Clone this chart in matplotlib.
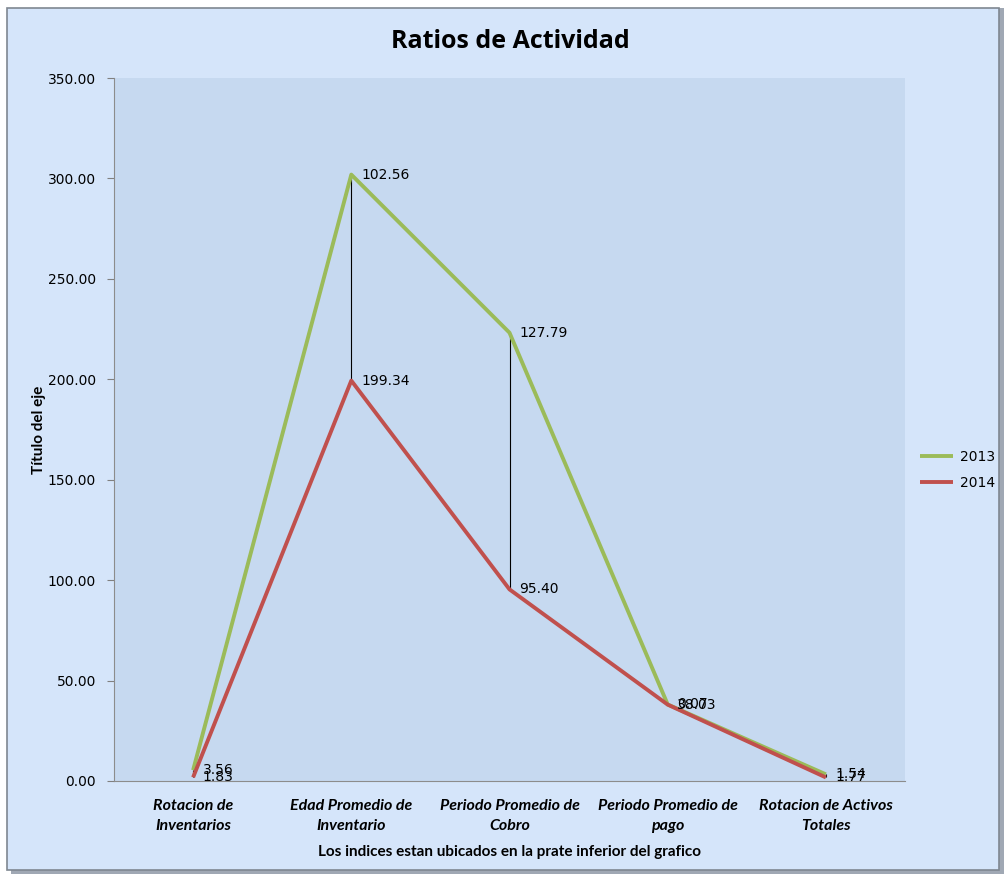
import numpy as np
import matplotlib.pyplot as plt
from matplotlib.patches import Rectangle

# ratios por año (lineas apiladas: 2013 se suma sobre 2014)
categorias = ["Rotacion de\nInventarios", "Edad Promedio de\nInventario",
              "Periodo Promedio de\nCobro", "Periodo Promedio de\npago",
              "Rotacion de Activos\nTotales"]
valores_2014 = [1.83, 199.34, 95.40, 38.03, 1.77]
valores_2013 = [3.56, 102.56, 127.79, 0.07, 1.54]
y_ticks = [0, 50, 100, 150, 200, 250, 300, 350]

verde = '#9BBB59'
rojo = '#C0504D'
fondo = '#D5E5FA'
fondo_plot = '#C6D9F0'
fuente = ['Lato', 'DejaVu Sans']

W, H = 1005, 875
fig = plt.figure(figsize=(W / 100, H / 100), dpi=100)
fig.patch.set_facecolor('white')

# marco del grafico con sombra
fig.patches.append(Rectangle((11 / W, 1 - 874 / H), 993 / W, 866 / H, transform=fig.transFigure,
                             facecolor='#A0A8B4', edgecolor='none', zorder=-10))
fig.patches.append(Rectangle((7 / W, 1 - 870 / H), 992 / W, 862 / H, transform=fig.transFigure,
                             facecolor=fondo, edgecolor='#7F8791', linewidth=1.2, zorder=-9))

ax = fig.add_axes([114 / W, 1 - 781 / H, 791 / W, 703 / H])
ax.set_facecolor(fondo_plot)

x = np.arange(len(categorias))
v14 = np.array(valores_2014)
v13 = v14 + np.array(valores_2013)

# lineas verticales entre series
ax.vlines(x, v14, v13, color='black', linewidth=0.8, zorder=2)

ax.plot(x, v13, color=verde, linewidth=2.8, label='2013', zorder=3, solid_capstyle='butt')
ax.plot(x, v14, color=rojo, linewidth=2.8, label='2014', zorder=3, solid_capstyle='butt')

for i in range(len(x)):
    ax.annotate(f"{valores_2013[i]:.2f}", (x[i], v13[i]), xytext=(7, 0), textcoords='offset points',
                va='center', ha='left', fontsize=10, family='DejaVu Sans', zorder=4)
    ax.annotate(f"{valores_2014[i]:.2f}", (x[i], v14[i]), xytext=(7, 0), textcoords='offset points',
                va='center', ha='left', fontsize=10, family='DejaVu Sans', zorder=4)

ax.set_xlim(-0.5, len(x) - 0.5)
ax.set_ylim(0, 350)
ax.set_yticks(y_ticks)
ax.set_yticklabels([f"{t:.2f}" for t in y_ticks], fontsize=10, family='DejaVu Sans')
ax.set_xticks(x)
ax.set_xticklabels(categorias, fontsize=11.5, fontweight='bold', style='italic',
                   family=fuente, linespacing=1.5)
ax.tick_params(axis='x', length=0, pad=13)
ax.tick_params(axis='y', length=5, color='#808080', pad=8)

for lado in ['top', 'right']:
    ax.spines[lado].set_visible(False)
ax.spines['left'].set_color('#8C8C8C')
ax.spines['bottom'].set_color('#8C8C8C')

ax.set_ylabel('Título del eje', fontsize=11, fontweight='bold', family=fuente, labelpad=1)
ax.set_xlabel('Los indices estan ubicados en la prate inferior del grafico', fontsize=11,
              fontweight='bold', family=fuente, labelpad=9)

fig.text(510 / W, 1 - 42 / H, 'Ratios de Actividad', ha='center', va='center', fontsize=18,
         fontweight='bold', family=['Open Sans', 'DejaVu Sans'])

fig.legend(loc='center left', bbox_to_anchor=(920 / W, 1 - 470 / H), frameon=False,
           handlelength=2.4, handletextpad=0.5, labelspacing=0.9, borderaxespad=0, borderpad=0,
           prop={'family': 'DejaVu Sans', 'size': 10})

fig.savefig('out.png', dpi=100)
